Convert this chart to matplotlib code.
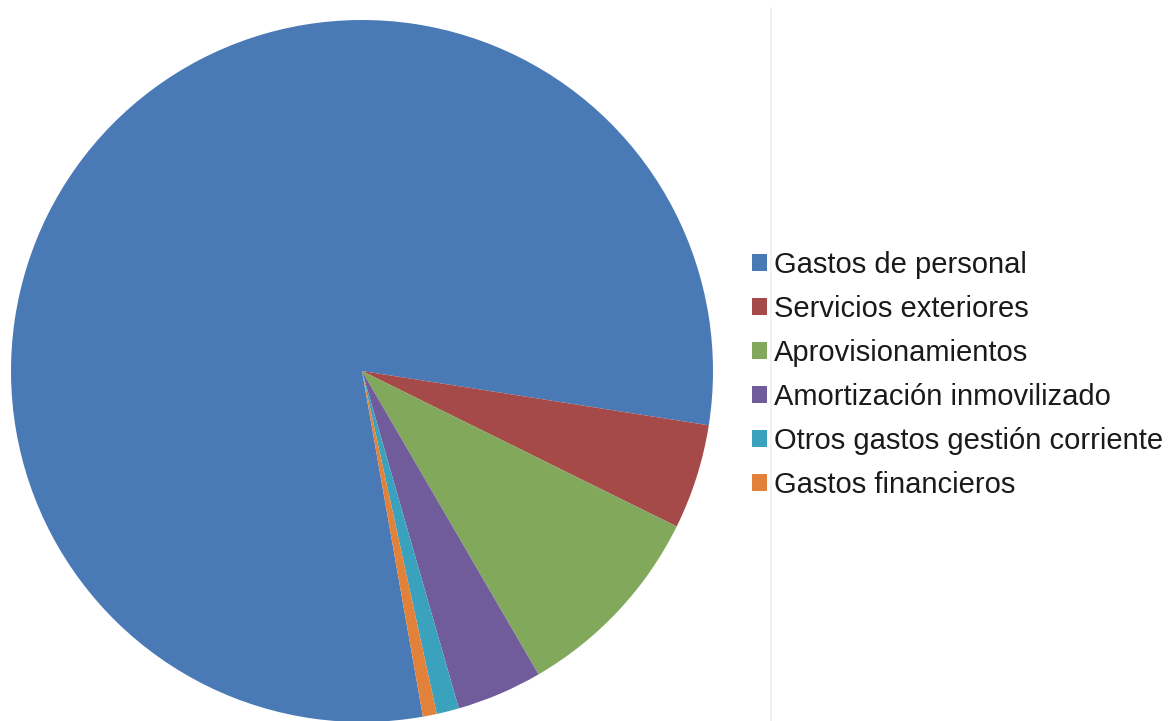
import matplotlib
matplotlib.use("Agg")
import matplotlib.pyplot as plt
from matplotlib.patches import Patch
from matplotlib.lines import Line2D

plt.rcParams['font.family'] = ['Liberation Sans', 'DejaVu Sans']

# cost breakdown (% of total)
categories = ['Gastos de personal', 'Servicios exteriores', 'Aprovisionamientos',
              'Amortización inmovilizado', 'Otros gastos gestión corriente',
              'Gastos financieros']
shares = [80.25, 4.83, 9.31, 3.94, 1.03, 0.64]
colors = ['#4A7AB6', '#A54A48', '#82A85B', '#705C9A', '#3AA2BC', '#E2823A']

W, H = 1168, 721
fig = plt.figure(figsize=(W / 100, H / 100), dpi=100)

# pie centre at (362, 371) px, radius 351 px
cx, cy, r = 362, 371, 351
ax = fig.add_axes([(cx - r) / W, (H - cy - r) / H, 2 * r / W, 2 * r / H])
ax.pie(shares, colors=colors, startangle=-80.0, counterclock=False,
       radius=1.0, wedgeprops=dict(linewidth=0))
ax.set_xlim(-1, 1)
ax.set_ylim(-1, 1)
ax.set_aspect('equal')
ax.axis('off')

# faint plot-area border line
fig.add_artist(Line2D([771 / W, 771 / W], [0, 1 - 8 / H], color='#EFEFEF',
                      linewidth=1.2, transform=fig.transFigure))

handles = [Patch(facecolor=c, edgecolor='none') for c in colors]
fig.legend(handles, categories, loc='center left',
           bbox_to_anchor=(752 / W, (H - 375) / H), frameon=False,
           fontsize=21, handlelength=0.5, handleheight=0.5,
           handletextpad=0.25, labelspacing=0.55, borderpad=0,
           borderaxespad=0, labelcolor='#1A1A1A')

fig.savefig('out.png', dpi=100)
